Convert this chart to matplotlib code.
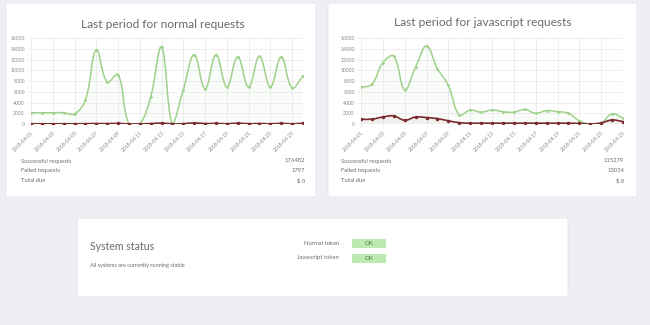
import numpy as np
import matplotlib
matplotlib.use("Agg")
import matplotlib.pyplot as plt
from matplotlib.path import Path
from matplotlib.patches import PathPatch, FancyBboxPatch

plt.rcParams['font.family'] = ['Lato', 'DejaVu Sans']

# data
normal_dates = ["2018-04-%02d" % d for d in range(1, 27)]
normal_ok = [2100, 2100, 2100, 2100, 1900, 4500, 13800, 7800, 9200, 0, 0, 5100, 14300,
             0, 6400, 12900, 6500, 12900, 6900, 12500, 6900, 12600, 6900, 12500, 6700, 9000]
normal_failed = [40, 30, 30, 40, 40, 60, 80, 70, 100, 20, 20, 80, 160,
                 40, 60, 200, 80, 110, 40, 150, 50, 90, 40, 110, 30, 160]

js_dates = ["2018-04-%02d" % d for d in range(1, 26)]
js_ok = [6800, 7400, 11400, 12600, 6400, 10600, 14500, 10300, 7200, 1700, 2600, 2200, 2600,
         2300, 2200, 2700, 2000, 2500, 2300, 2000, 600, 0, 200, 1900, 1100]
js_failed = [900, 900, 1300, 1500, 700, 1300, 1200, 1000, 600, 250, 150, 150, 150,
             150, 150, 150, 150, 150, 150, 150, 100, 0, 200, 750, 450]

stat_labels = ["Successful requests", "Failed requests", "Total due"]
normal_stats = ["176482", "1797", "$ 0"]
js_stats = ["115279", "13034", "$ 0"]

y_ticks = [0, 2000, 4000, 6000, 8000, 10000, 12000, 14000, 16000]

W, H = 650, 325
GREEN = "#9fd18b"
RED = "#7b2a2f"
TXT = "#666a73"

fig = plt.figure(figsize=(W / 100, H / 100), dpi=100)
fig.patch.set_facecolor("#edeff4")

bg = fig.add_axes([0, 0, 1, 1])
bg.set_xlim(0, W)
bg.set_ylim(H, 0)
bg.axis("off")


def card(x0, y0, x1, y1):
    bg.add_patch(FancyBboxPatch((x0, y0), x1 - x0, y1 - y0, boxstyle="round,pad=0,rounding_size=2",
                                fc="white", ec="#e2e4ea", lw=0.6))


def px_axes(x0, y0, x1, y1):
    return fig.add_axes([x0 / W, 1 - y1 / H, (x1 - x0) / W, (y1 - y0) / H])


def smooth_line(ax, ys, color, lw, ymax, tension=0.4):
    # chart.js style bezier through the points, computed in pixel space
    bb = ax.get_window_extent()
    n = len(ys)
    sx = bb.width / (n - 1)
    sy = bb.height / ymax
    pts = np.array([[i * sx, v * sy] for i, v in enumerate(ys)])
    verts = [pts[0]]
    codes = [Path.MOVETO]
    cps = []
    for i in range(n):
        p0 = pts[i - 1] if i > 0 else pts[i]
        p1 = pts[i]
        p2 = pts[i + 1] if i < n - 1 else pts[i]
        d01 = np.hypot(*(p1 - p0))
        d12 = np.hypot(*(p2 - p1))
        tot = d01 + d12 if d01 + d12 > 0 else 1
        fa = tension * d01 / tot
        fb = tension * d12 / tot
        prev_cp = p1 - fa * (p2 - p0)
        next_cp = p1 + fb * (p2 - p0)
        prev_cp[1] = np.clip(prev_cp[1], 0, bb.height)
        next_cp[1] = np.clip(next_cp[1], 0, bb.height)
        cps.append((prev_cp, next_cp))
    for i in range(1, n):
        verts += [cps[i - 1][1], cps[i][0], pts[i]]
        codes += [Path.CURVE4] * 3
    verts = np.array(verts)
    verts[:, 0] /= sx
    verts[:, 1] /= sy
    ax.add_patch(PathPatch(Path(verts, codes), fc="none", ec=color, lw=lw, zorder=3))
    # light fill under the line
    fill_v = np.vstack([verts, [[n - 1, 0], [0, 0], verts[0]]])
    fill_c = codes + [Path.LINETO, Path.LINETO, Path.CLOSEPOLY]
    ax.add_patch(PathPatch(Path(fill_v, fill_c), fc=color, ec="none", alpha=0.06, zorder=1))


def chart(rect, title_xy, title, dates, ok, failed, stats, stat_x0, stat_x1):
    ax = px_axes(*rect)
    n = len(dates)
    ax.set_xlim(0, n - 1)
    ax.set_ylim(0, 16000)
    ax.set_yticks(y_ticks)
    ax.set_yticklabels([str(t) for t in y_ticks])
    ax.set_xticks(range(0, n, 2))
    ax.set_xticklabels(dates[::2], rotation=45, ha="right", rotation_mode="anchor")
    ax.tick_params(labelsize=3.6, colors="#888888", length=3, width=0.4,
                   color="#e6e6e6", pad=1.5)
    ax.grid(True, color="#e8e8e8", lw=0.5)
    ax.set_axisbelow(True)
    for s in ax.spines.values():
        s.set_visible(False)
    fig.canvas.draw()
    smooth_line(ax, ok, GREEN, 1.1, 16000)
    smooth_line(ax, failed, RED, 1.2, 16000)
    ax.plot(range(n), ok, "o", ms=1.0, color=GREEN, zorder=4)
    ax.plot(range(n), failed, "o", ms=1.5, color=RED, zorder=4)
    bg.text(title_xy[0], title_xy[1], title, fontsize=8.6, color=TXT, ha="center", va="center")
    for k, (lab, val) in enumerate(zip(stat_labels, stats)):
        y = 161 + k * 9.8
        bg.text(stat_x0, y, lab, fontsize=4.2, color=TXT, va="center")
        bg.text(stat_x1, y, val, fontsize=4.2, color=TXT, va="center", ha="right")


card(6, 3, 316, 197)
card(328, 3, 637, 197)
card(77, 218, 568, 297)

chart((31, 38, 303, 124), (163, 24), "Last period for normal requests",
      normal_dates, normal_ok, normal_failed, normal_stats, 21, 305)
chart((361, 38, 623, 124), (483, 22), "Last period for javascript requests",
      js_dates, js_ok, js_failed, js_stats, 341, 624)

# system status card
bg.text(90, 246, "System status", fontsize=7.6, color=TXT, va="center")
bg.text(90, 266, "All systems are currently running stable", fontsize=4.0, color=TXT, va="center")
for k, lab in enumerate(["Normal token", "Javascript token"]):
    y = 243.5 + k * 14.5
    bg.text(339, y, lab, fontsize=4.2, color=TXT, va="center", ha="right")
    bg.add_patch(FancyBboxPatch((352, y - 4.5), 34, 9, boxstyle="square,pad=0",
                                fc="#bdeab0", ec="none"))
    bg.text(369, y, "OK", fontsize=4.4, color="#5a7a55", va="center", ha="center")

fig.savefig("out.png", dpi=100, facecolor=fig.get_facecolor())
